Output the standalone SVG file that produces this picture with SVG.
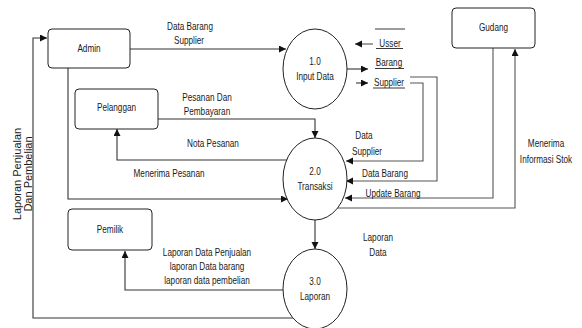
<svg xmlns="http://www.w3.org/2000/svg" width="582" height="328" viewBox="0 0 582 328">
<style>
.box{fill:#fff;stroke:#222;stroke-width:1}
.proc{fill:#fff;stroke:#222;stroke-width:1}
.t{font-family:"Liberation Sans",Arial,sans-serif;font-size:10px;fill:#1a1a1a;text-anchor:middle}
.c{fill:none;stroke:#333;stroke-width:1.1}
.g{fill:none;stroke:#555;stroke-width:1.1}
.u{stroke:#222;stroke-width:0.9}
</style>
<defs>
<marker id="ah" markerUnits="userSpaceOnUse" markerWidth="8" markerHeight="8" refX="7" refY="3.5" orient="auto">
<path d="M0,0 L7,3.5 L0,7 z" fill="#111"/>
</marker>
</defs>
<rect width="582" height="328" fill="#fff"/>

<g id="connectors">
<path class="c" d="M130,49 H286" marker-end="url(#ah)"/>
<path class="c" d="M295,318 H33 V38 H47" marker-end="url(#ah)"/>
<path class="c" d="M68,68 V199 H288" marker-end="url(#ah)"/>
<path class="c" d="M158,119 H315 V138" marker-end="url(#ah)"/>
<path class="c" d="M287,160 H117 V129" marker-end="url(#ah)"/>
<path class="g" d="M373,44 H355" stroke="#888" marker-end="url(#ah)"/>
<path class="c" d="M347,69 H368" marker-end="url(#ah)"/>
<path class="c" d="M356,83 H368" marker-end="url(#ah)"/>
<path class="g" d="M410,83 H423 V161 H346" marker-end="url(#ah)"/>
<path class="g" d="M410,77 H437 V181 H346" marker-end="url(#ah)"/>
<path class="g" d="M493,48 V198 H345" marker-end="url(#ah)"/>
<path class="g" d="M337,208 H515 V49" marker-end="url(#ah)"/>
<path class="c" d="M315,220 V249" marker-end="url(#ah)"/>
<path class="c" d="M284,290 H125 V251" marker-end="url(#ah)"/>
</g>

<g id="admin">
<rect class="box" x="48" y="29" width="82" height="39" rx="4"/>
<text class="t" transform="translate(89,52) scale(0.82,1)">Admin</text>
</g>
<g id="pelanggan">
<rect class="box" x="75" y="89" width="83" height="40" rx="4"/>
<text class="t" transform="translate(116.5,111) scale(0.82,1)">Pelanggan</text>
</g>
<g id="pemilik">
<rect class="box" x="68" y="209" width="84" height="41" rx="4"/>
<text class="t" transform="translate(110,233) scale(0.82,1)">Pemilik</text>
</g>
<g id="gudang">
<rect class="box" x="452" y="8" width="83" height="40" rx="4"/>
<text class="t" transform="translate(493.5,31) scale(0.82,1)">Gudang</text>
</g>
<g id="p1">
<ellipse class="proc" cx="315" cy="69" rx="32" ry="40"/>
<text class="t" transform="translate(315,65) scale(0.82,1)">1.0</text>
<text class="t" transform="translate(315,80) scale(0.82,1)">Input Data</text>
</g>
<g id="p2">
<ellipse class="proc" cx="315" cy="179" rx="32" ry="41"/>
<text class="t" transform="translate(315,175) scale(0.82,1)">2.0</text>
<text class="t" transform="translate(315,190) scale(0.82,1)">Transaksi</text>
</g>
<g id="p3">
<ellipse class="proc" cx="315" cy="289" rx="32" ry="40"/>
<text class="t" transform="translate(315,285) scale(0.82,1)">3.0</text>
<text class="t" transform="translate(315,300) scale(0.82,1)">Laporan</text>
</g>
<g id="stores">
<line class="u" x1="375" y1="29" x2="405" y2="29"/>
<text class="t" transform="translate(390,47) scale(0.82,1)">Usser</text>
<line class="u" x1="376" y1="48.5" x2="403" y2="48.5"/>
<text class="t" transform="translate(389,66) scale(0.82,1)">Barang</text>
<line class="u" x1="375" y1="68.5" x2="404" y2="68.5"/>
<text class="t" transform="translate(389,86) scale(0.82,1)">Supplier</text>
<line class="u" x1="373" y1="88" x2="405" y2="88"/>
</g>

<g id="labels">
<text class="t" transform="translate(190,30) scale(0.82,1)">Data Barang</text>
<text class="t" transform="translate(189,44) scale(0.82,1)">Supplier</text>
<text class="t" transform="translate(207,101) scale(0.82,1)">Pesanan Dan</text>
<text class="t" transform="translate(207,115) scale(0.82,1)">Pembayaran</text>
<text class="t" transform="translate(213,147) scale(0.82,1)">Nota Pesanan</text>
<text class="t" transform="translate(169,177) scale(0.82,1)">Menerima Pesanan</text>
<text class="t" transform="translate(364,139) scale(0.82,1)">Data</text>
<text class="t" transform="translate(367,155) scale(0.82,1)">Supplier</text>
<text class="t" transform="translate(385,177) scale(0.82,1)">Data Barang</text>
<text class="t" transform="translate(393,197) scale(0.82,1)">Update Barang</text>
<text class="t" transform="translate(546,147) scale(0.82,1)">Menerima</text>
<text class="t" transform="translate(546,163) scale(0.82,1)">Informasi Stok</text>
<text class="t" transform="translate(378,241) scale(0.82,1)">Laporan</text>
<text class="t" transform="translate(378,256) scale(0.82,1)">Data</text>
<text class="t" transform="translate(207,256) scale(0.82,1)">Laporan Data Penjualan</text>
<text class="t" transform="translate(207,270) scale(0.82,1)">laporan Data barang</text>
<text class="t" transform="translate(207,284) scale(0.82,1)">laporan data pembelian</text>
<text class="t" transform="translate(21,174) rotate(-90)" style="font-size:11px">Laporan Penjualan</text>
<text class="t" transform="translate(31.5,174) rotate(-90)" style="font-size:11px">Dan Pembelian</text>
</g>
</svg>
